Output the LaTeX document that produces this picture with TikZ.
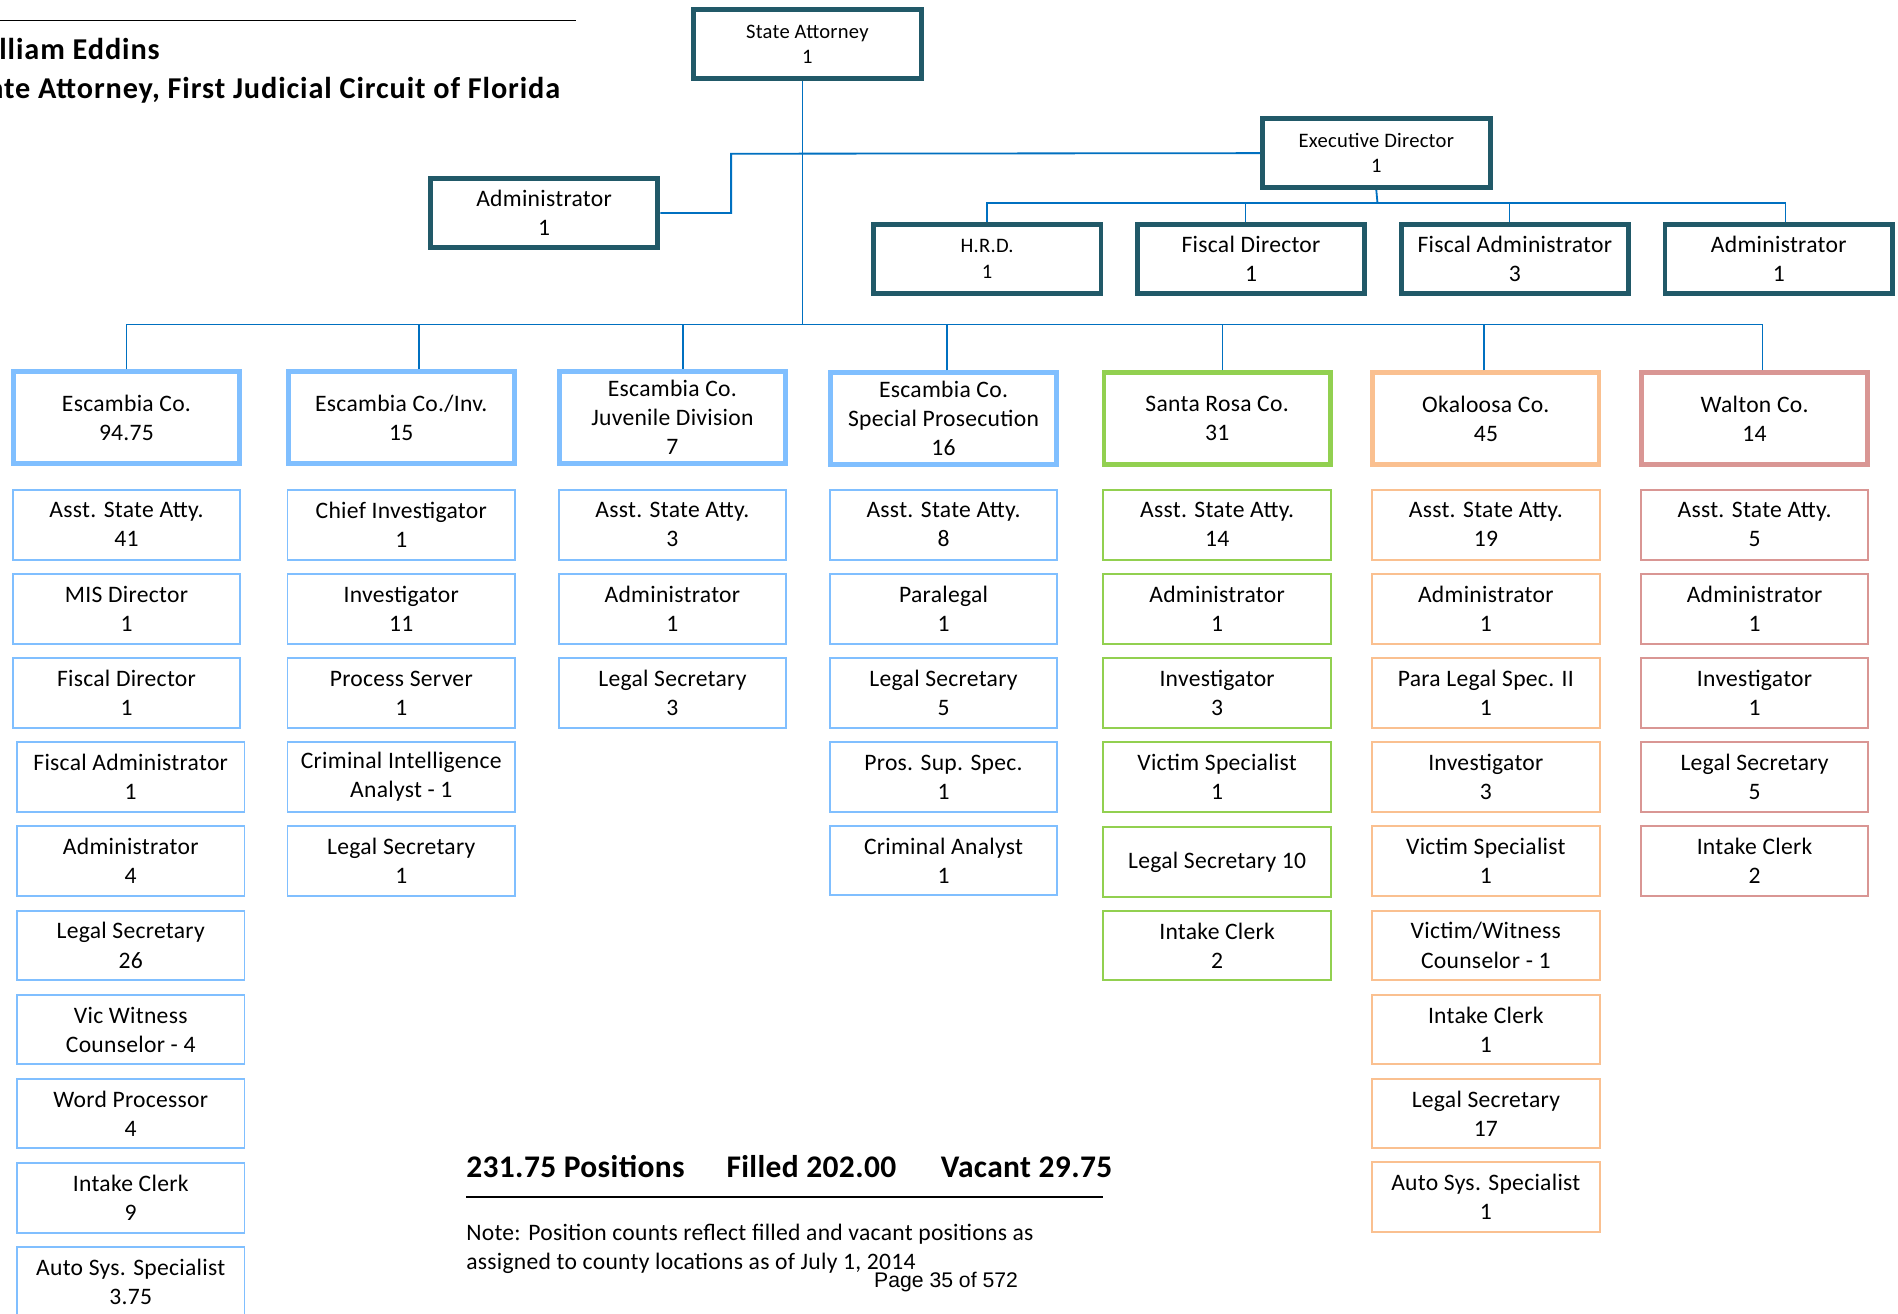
\documentclass[tikz,border=0pt]{standalone}
\usepackage{fontspec}
\setmainfont{Carlito}[LetterSpace=1.2]
\newfontfamily\pagefont{Liberation Sans}
\definecolor{headcol}{HTML}{215968}
\definecolor{linkcol}{HTML}{0070C0}
\definecolor{esccol}{HTML}{80BFFF}
\definecolor{srcol}{HTML}{92D050}
\definecolor{okcol}{HTML}{FAC090}
\definecolor{walcol}{HTML}{D99694}
\begin{document}
\begin{tikzpicture}[x=1pt,y=-1pt,
  box/.style={draw, rectangle, align=center, inner sep=0pt, text=black,
    font=\fontsize{19.5}{24}\selectfont},
  headbox/.style={box, draw=headcol, line width=4pt, minimum width=188pt, minimum height=57pt},
  smallhead/.style={font=\fontsize{17}{21}\selectfont},
  countybox/.style={box, line width=4pt, minimum width=187pt, minimum height=76pt},
  rolebox/.style={box, line width=1.6pt, minimum width=188pt, minimum height=57.5pt},
  link/.style={draw=linkcol, line width=1.5pt},
  title/.style={inner sep=0pt, font=\fontsize{25}{30}\selectfont\bfseries\addfontfeatures{LetterSpace=3}},
  sumtext/.style={anchor=base west, inner sep=0pt, font=\fontsize{26}{31}\selectfont\bfseries},
  notetext/.style={anchor=base west, inner sep=0pt, font=\fontsize{19.5}{24}\selectfont}
]
\useasboundingbox (0,0) rectangle (1568,1085);
\clip (0,0) rectangle (1568,1085);
\fill[white] (0,0) rectangle (1568,1085);

% page header
\draw[line width=1.5pt] (0,17) -- (476,17);
\node[title, anchor=base west] (hname) at (-31,49) {William Eddins};
\node[title, anchor=base east] (hpost) at (463,81) {State Attorney, First Judicial Circuit of Florida};

% leadership
\node[headbox, smallhead] (sa) at (667,36.5) {State Attorney\\1};
\node[headbox] (adm) at (449.5,176) {Administrator\\1};
\node[headbox, smallhead] (exec) at (1137,126.5) {Executive Director\\1};
\node[headbox, smallhead] (hrd) at (815.5,214) {H.R.D.\\1};
\node[headbox] (fdir) at (1033.5,214) {Fiscal Director\\1};
\node[headbox] (fadm) at (1251.5,214) {Fiscal Administrator\\3};
\node[headbox] (eadm) at (1469.5,214) {Administrator\\1};

% county offices
\node[countybox, draw=esccol] (c1) at (104.5,345) {Escambia Co.\\94.75};
\node[countybox, draw=esccol] (c2) at (331.5,345) {Escambia Co./Inv.\\15};
\node[countybox, draw=esccol] (c3) at (555.5,345) {Escambia Co.\\Juvenile Division\\7};
\node[countybox, draw=esccol] (c4) at (779.5,346) {Escambia Co.\\Special Prosecution\\16};
\node[countybox, draw=srcol] (c5) at (1005.5,346) {Santa Rosa Co.\\31};
\node[countybox, draw=okcol] (c6) at (1227.5,346) {Okaloosa Co.\\45};
\node[countybox, draw=walcol] (c7) at (1449.5,346) {Walton Co.\\14};

% Escambia Co.
\node[rolebox, draw=esccol] (a1) at (104.5,433.5) {Asst. State Atty.\\41};
\node[rolebox, draw=esccol] (a2) at (104.5,503) {MIS Director\\1};
\node[rolebox, draw=esccol] (a3) at (104.5,572.5) {Fiscal Director\\1};
\node[rolebox, draw=esccol] (a4) at (108,642) {Fiscal Administrator\\1};
\node[rolebox, draw=esccol] (a5) at (108,711.5) {Administrator\\4};
\node[rolebox, draw=esccol] (a6) at (108,781) {Legal Secretary\\26};
\node[rolebox, draw=esccol] (a7) at (108,850.5) {Vic Witness\\Counselor - 4};
\node[rolebox, draw=esccol] (a8) at (108,920) {Word Processor\\4};
\node[rolebox, draw=esccol] (a9) at (108,989.5) {Intake Clerk\\9};
\node[rolebox, draw=esccol] (a10) at (108,1059) {Auto Sys. Specialist\\3.75};

% Escambia Co./Inv.
\node[rolebox, draw=esccol] (b1) at (331.5,433.5) {Chief Investigator\\1};
\node[rolebox, draw=esccol] (b2) at (331.5,503) {Investigator\\11};
\node[rolebox, draw=esccol] (b3) at (331.5,572.5) {Process Server\\1};
\node[rolebox, draw=esccol] (b4) at (331.5,642) {Criminal Intelligence\\Analyst - 1};
\node[rolebox, draw=esccol] (b5) at (331.5,711.5) {Legal Secretary\\1};

% Juvenile Division
\node[rolebox, draw=esccol] (d1) at (555.5,433.5) {Asst. State Atty.\\3};
\node[rolebox, draw=esccol] (d2) at (555.5,503) {Administrator\\1};
\node[rolebox, draw=esccol] (d3) at (555.5,572.5) {Legal Secretary\\3};

% Special Prosecution
\node[rolebox, draw=esccol] (e1) at (779.5,433.5) {Asst. State Atty.\\8};
\node[rolebox, draw=esccol] (e2) at (779.5,503) {Paralegal\\1};
\node[rolebox, draw=esccol] (e3) at (779.5,572.5) {Legal Secretary\\5};
\node[rolebox, draw=esccol] (e4) at (779.5,642) {Pros. Sup. Spec.\\1};
\node[rolebox, draw=esccol] (e5) at (779.5,711) {Criminal Analyst\\1};

% Santa Rosa Co.
\node[rolebox, draw=srcol] (f1) at (1005.5,433.5) {Asst. State Atty.\\14};
\node[rolebox, draw=srcol] (f2) at (1005.5,503) {Administrator\\1};
\node[rolebox, draw=srcol] (f3) at (1005.5,572.5) {Investigator\\3};
\node[rolebox, draw=srcol] (f4) at (1005.5,642) {Victim Specialist\\1};
\node[rolebox, draw=srcol] (f5) at (1005.5,712) {Legal Secretary 10};
\node[rolebox, draw=srcol] (f6) at (1005.5,781) {Intake Clerk\\2};

% Okaloosa Co.
\node[rolebox, draw=okcol] (g1) at (1227.5,433.5) {Asst. State Atty.\\19};
\node[rolebox, draw=okcol] (g2) at (1227.5,503) {Administrator\\1};
\node[rolebox, draw=okcol] (g3) at (1227.5,572.5) {Para Legal Spec. II\\1};
\node[rolebox, draw=okcol] (g4) at (1227.5,642) {Investigator\\3};
\node[rolebox, draw=okcol] (g5) at (1227.5,711.5) {Victim Specialist\\1};
\node[rolebox, draw=okcol] (g6) at (1227.5,781) {Victim/Witness\\Counselor - 1};
\node[rolebox, draw=okcol] (g7) at (1227.5,850.5) {Intake Clerk\\1};
\node[rolebox, draw=okcol] (g8) at (1227.5,920) {Legal Secretary\\17};
\node[rolebox, draw=okcol] (g9) at (1227.5,989) {Auto Sys. Specialist\\1};

% Walton Co.
\node[rolebox, draw=walcol] (h1) at (1449.5,433.5) {Asst. State Atty.\\5};
\node[rolebox, draw=walcol] (h2) at (1449.5,503) {Administrator\\1};
\node[rolebox, draw=walcol] (h3) at (1449.5,572.5) {Investigator\\1};
\node[rolebox, draw=walcol] (h4) at (1449.5,642) {Legal Secretary\\5};
\node[rolebox, draw=walcol] (h5) at (1449.5,711.5) {Intake Clerk\\2};

% connectors
\coordinate (jn) at (663,268);
\coordinate (bend) at (604,127);
\coordinate (eb) at (1138,168);
\draw[link] ([xshift=-4pt]sa.south) -- (jn);
\draw[link] (adm.east) -| (bend) -- (exec.west);
\draw[link] (exec.south) -- (eb);
\draw[link] (hrd.north) |- (eb);
\draw[link] ([xshift=-4.5pt]fdir.north) |- (eb);
\draw[link] ([xshift=-4.5pt]fadm.north) |- (eb);
\draw[link] ([xshift=5.5pt]eadm.north) |- (eb);
\draw[link] (c1.north) |- (jn);
\draw[link] ([xshift=14.5pt]c2.north) |- (jn);
\draw[link] ([xshift=8.5pt]c3.north) |- (jn);
\draw[link] ([xshift=2.5pt]c4.north) |- (jn);
\draw[link] ([xshift=4.5pt]c5.north) |- (jn);
\draw[link] ([xshift=-1.5pt]c6.north) |- (jn);
\draw[link] ([xshift=6.5pt]c7.north) |- (jn);

% totals and note
\node[sumtext] (tot) at (385,973) {231.75 Positions};
\node[sumtext] (fill) at (600,973) {Filled 202.00};
\node[sumtext] (vac) at (777,973) {Vacant 29.75};
\draw[line width=2pt] (385,989) -- (911,989);
\node[notetext] (n1) at (385,1025) {Note: Position counts reflect filled and vacant positions as};
\node[notetext] (n2) at (385,1049) {assigned to county locations as of July 1, 2014};
\node[anchor=base west, inner sep=0pt, font=\pagefont\fontsize{17.5}{21}\selectfont] (pg) at (722,1064) {Page 35 of 572};
\end{tikzpicture}
\end{document}
